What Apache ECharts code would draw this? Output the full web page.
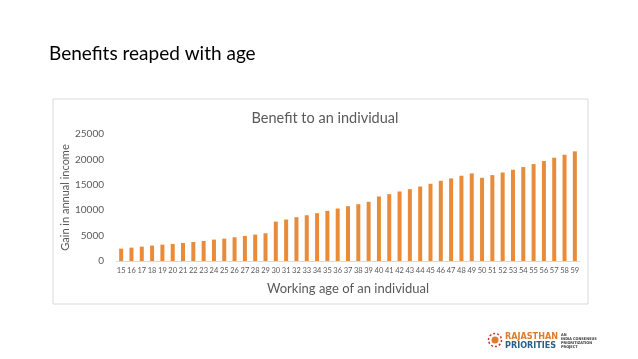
<!DOCTYPE html>
<html><head><meta charset="utf-8">
<script src="https://cdn.jsdelivr.net/npm/echarts@6/dist/echarts.min.js"></script>
<style>html,body{margin:0;padding:0;background:#fff}#c{width:638px;height:359px}</style>
</head><body><div id="c"></div>
<script>
const ages = ['15','16','17','18','19','20','21','22','23','24','25','26','27','28','29','30','31','32','33','34','35','36','37','38','39','40','41','42','43','44','45','46','47','48','49','50','51','52','53','54','55','56','57','58','59'];
const benefit = [2430,2630,2830,3030,3220,3360,3550,3750,3950,4210,4400,4670,4930,5200,5460,7760,8160,8620,9010,9410,9870,10330,10790,11180,11650,12700,13160,13680,14140,14670,15200,15790,16250,16780,17240,16380,16910,17430,17960,18490,19080,19670,20330,20920,21580];
const slideTitle = 'Benefits reaped with age';
const chartTitle = 'Benefit to an individual';
const yName = 'Gain in annual income';
const xName = 'Working age of an individual';
const F = 'Lato, "Open Sans", sans-serif';
const chart = echarts.init(document.getElementById('c'), null, {renderer:'canvas'});
chart.setOption({
  animation:false,
  backgroundColor:'#fff',
  title:{text:chartTitle,left:320,textAlign:'center',top:106,textStyle:{fontFamily:F,fontSize:14.5,fontWeight:'normal',color:'#595959'}},
  grid:{left:116,right:58,top:134,bottom:98,containLabel:false},
  xAxis:{type:'category',data:ages,
    name:xName,nameLocation:'middle',nameGap:21,
    nameTextStyle:{fontFamily:F,fontSize:13,color:'#595959'},
    axisLine:{lineStyle:{color:'#d9d9d9'}},axisTick:{show:false},
    axisLabel:{interval:0,fontFamily:F,fontSize:7.5,color:'#595959',margin:6}},
  yAxis:{type:'value',min:0,max:25000,interval:5000,
    name:yName,nameLocation:'middle',nameGap:45,nameRotate:90,nameMoveOverlap:false,
    nameTextStyle:{fontFamily:F,fontSize:11,color:'#595959'},
    axisLine:{show:false},axisTick:{show:false},splitLine:{show:false},
    axisLabel:{fontFamily:F,fontSize:10,color:'#595959',margin:12,formatter:v=>String(v)}},
  series:[{type:'bar',data:benefit,barWidth:4,itemStyle:{color:'#E88B3A'}}],
  graphic:[
    {type:'rect',shape:{x:53,y:99,width:535,height:205},style:{fill:'none',stroke:'#d9d9d9',lineWidth:1},silent:true},
    {type:'text',left:49,top:44,style:{text:slideTitle,fontFamily:F,fontSize:19,fill:'#000'}},
    {type:'group',left:486,top:331,children:[
      {type:'circle',shape:{cx:7,cy:8,r:3.5},style:{fill:'#e07b2a'}},
      {type:'circle',shape:{cx:7,cy:8,r:6.5},style:{fill:'none',stroke:'#c0392b',lineWidth:1.5,lineDash:[2,2]}},
      {type:'text',left:17,top:0,style:{text:'RAJASTHAN',fontFamily:'"DejaVu Sans Condensed", sans-serif',fontSize:9,fontWeight:'bold',fill:'#e07b2a'}},
      {type:'text',left:17,top:9,style:{text:'PRIORITIES',fontFamily:'"DejaVu Sans Condensed", sans-serif',fontSize:9,fontWeight:'bold',fill:'#2a5f86'}},
      {type:'text',left:73,top:1,style:{text:'AN\nINDIA CONSENSUS\nPRIORITIZATION\nPROJECT',fontFamily:'"DejaVu Sans Condensed", sans-serif',fontSize:3.8,lineHeight:4,fontWeight:'bold',fill:'#333'}}
    ]}
  ]
});
</script></body></html>
